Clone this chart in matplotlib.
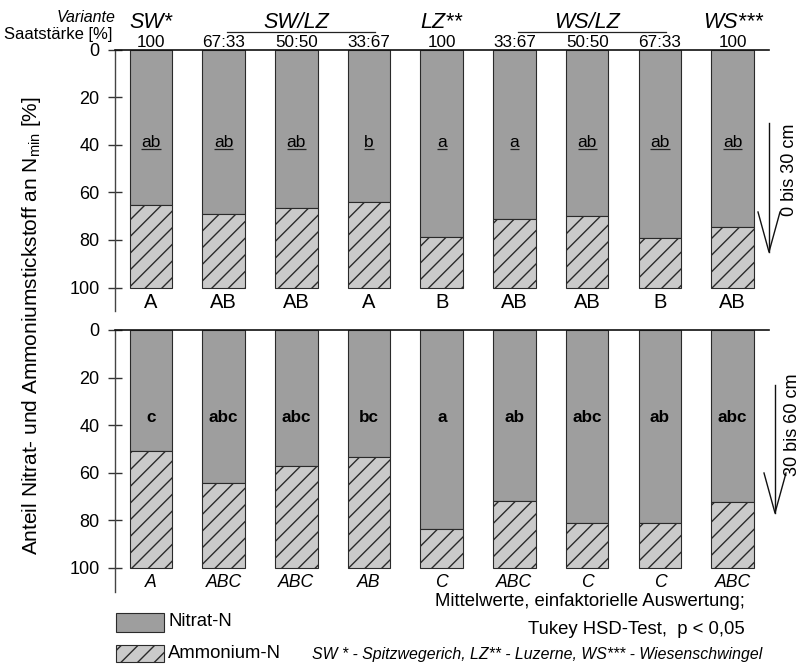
import matplotlib
matplotlib.use("Agg")
import matplotlib.pyplot as plt
from matplotlib.lines import Line2D
from matplotlib.patches import Rectangle
import numpy as np

plt.rcParams['font.family'] = ['Liberation Sans', 'DejaVu Sans']
plt.rcParams['hatch.linewidth'] = 1.0

# ---------------- data ----------------
saatstaerke = ["100", "67:33", "50:50", "33:67", "100", "33:67", "50:50", "67:33", "100"]
groups = ["SW*", "SW/LZ", "LZ**", "WS/LZ", "WS***"]
group_members = [[0], [1, 2, 3], [4], [5, 6, 7], [8]]

# Nitrat-N share [%] (rest = Ammonium-N)
nitrat_0_30 = [65.4, 69.2, 66.8, 64.0, 78.9, 71.4, 69.8, 79.1, 74.6]
nitrat_30_60 = [50.8, 64.2, 57.2, 53.4, 83.7, 72.0, 80.9, 80.9, 72.1]

letters_0_30_in = ["ab", "ab", "ab", "b", "a", "a", "ab", "ab", "ab"]
letters_0_30_below = ["A", "AB", "AB", "A", "B", "AB", "AB", "B", "AB"]
letters_30_60_in = ["c", "abc", "abc", "bc", "a", "ab", "abc", "ab", "abc"]
letters_30_60_below = ["A", "ABC", "ABC", "AB", "C", "ABC", "C", "C", "ABC"]

depth_labels = ["0 bis 30 cm", "30 bis 60 cm"]
legend_labels = ["Nitrat-N", "Ammonium-N"]
notes = ["Mittelwerte, einfaktorielle Auswertung;", "Tukey HSD-Test,  p < 0,05",
         "SW * - Spitzwegerich, LZ** - Luzerne, WS*** - Wiesenschwingel"]

# ---------------- style ----------------
C_NIT = "#9e9e9e"
C_AMM = "#cacaca"
C_EDGE = "#2a2a2a"
W, H = 805, 666

def fx(px):
    return px / W

def fy(py):
    return 1 - py / H

fig = plt.figure(figsize=(W / 100, H / 100), dpi=100)

left_px, right_px = 114.5, 769
scale = 2.38  # px per %
ax_top = fig.add_axes([fx(left_px), fy(49.5 + 110 * scale), (right_px - left_px) / W, 110 * scale / H])
ax_bot = fig.add_axes([fx(left_px), fy(330 + 110 * scale), (right_px - left_px) / W, 110 * scale / H])

x = np.arange(len(saatstaerke))
bw = 0.585

def draw_panel(ax, nitrat):
    nit = np.array(nitrat)
    amm = 100 - nit
    ax.bar(x, nit, bw, bottom=0, color=C_NIT, edgecolor=C_EDGE, linewidth=0.8, zorder=2)
    ax.bar(x, amm, bw, bottom=nit, color=C_AMM, edgecolor=C_EDGE, linewidth=0.8,
           hatch='//', zorder=2)
    ax.set_xlim(-0.5, 8.5)
    ax.set_ylim(110, 0)
    ax.set_xticks([])
    ax.set_yticks([0, 20, 40, 60, 80, 100])
    ax.tick_params(axis='y', direction='inout', length=9.5, width=1.0, pad=6,
                   labelsize=13, color="#333333")
    for s in ['right', 'bottom']:
        ax.spines[s].set_visible(False)
    ax.spines['left'].set_color("#444444")
    ax.spines['left'].set_linewidth(1.0)
    ax.spines['top'].set_color("#111111")
    ax.spines['top'].set_linewidth(1.2)
    ax.patch.set_alpha(0)

draw_panel(ax_top, nitrat_0_30)
draw_panel(ax_bot, nitrat_30_60)

# letters inside bars
top_texts = []
for i, lab in enumerate(letters_0_30_in):
    t = ax_top.text(x[i], 40.8, lab, ha='center', va='baseline', fontsize=12.5, zorder=3)
    top_texts.append(t)
for i, lab in enumerate(letters_30_60_in):
    ax_bot.text(x[i], 38.7, lab, ha='center', va='baseline', fontsize=12.3,
                fontweight='bold', zorder=3)
for i, lab in enumerate(letters_0_30_below):
    ax_top.text(x[i], 108.7, lab, ha='center', va='baseline', fontsize=14.5, clip_on=False)
for i, lab in enumerate(letters_30_60_below):
    ax_bot.text(x[i], 107.9, lab, ha='center', va='baseline', fontsize=12.7,
                style='italic', clip_on=False)

# underline top letters using the rendered text extents
fig.canvas.draw()
inv = ax_top.transData.inverted()
for t in top_texts:
    bb = t.get_window_extent()
    (x0, _), (x1, _) = inv.transform([(bb.x0, bb.y0), (bb.x1, bb.y0)])
    ax_top.plot([x0, x1], [41.7, 41.7], color="#222222", linewidth=0.9, zorder=3,
                solid_capstyle='butt')

# header: Saatstärke and Variante
for i, s in enumerate(saatstaerke):
    ax_top.text(x[i], -0.9, s, ha='center', va='baseline', fontsize=12.3, clip_on=False)
for g, mem in zip(groups, group_members):
    xc = np.mean([x[m] for m in mem])
    ax_top.text(xc, -8.9, g, ha='center', va='baseline', fontsize=15.5, style='italic',
                clip_on=False)
    if len(mem) > 1:
        ax_top.plot([x[mem[0]] + 0.05, x[mem[-1]] + 0.08], [-7.2, -7.2], color="#222222",
                    linewidth=0.9, clip_on=False)

fig.text(fx(115), fy(21.7), "Variante", ha='right', va='baseline', fontsize=11.5, style='italic')
fig.text(fx(112), fy(39), "Saatstärke [%]", ha='right', va='baseline', fontsize=12)

# y label
fig.text(fx(32), fy(326), "Anteil Nitrat- und Ammoniumstickstoff an N$_{\\mathregular{min}}$ [%]",
         rotation=90, ha='center', va='center', fontsize=15)

# depth arrows
def arrow(xs, y0, y1, head_len=40, head_w=11):
    fig.add_artist(Line2D([fx(xs), fx(xs)], [fy(y0), fy(y1)], color="#111111", linewidth=1.0))
    fig.add_artist(Line2D([fx(xs - head_w), fx(xs), fx(xs + head_w)],
                          [fy(y1 - head_len), fy(y1), fy(y1 - head_len)],
                          color="#111111", linewidth=1.0))

arrow(769, 123, 252)
arrow(775, 385, 513)
fig.text(fx(789), fy(170), depth_labels[0], rotation=90, ha='center', va='center', fontsize=13)
fig.text(fx(792), fy(425), depth_labels[1], rotation=90, ha='center', va='center', fontsize=13)

# legend
fig.add_artist(Rectangle((fx(116), fy(632)), 48 / W, 19 / H, transform=fig.transFigure,
                         facecolor=C_NIT, edgecolor=C_EDGE, linewidth=0.8))
fig.add_artist(Rectangle((fx(116), fy(662)), 48 / W, 17 / H, transform=fig.transFigure,
                         facecolor=C_AMM, edgecolor=C_EDGE, linewidth=0.8, hatch='//'))
fig.text(fx(168), fy(622), legend_labels[0], ha='left', va='center', fontsize=13.3)
fig.text(fx(168), fy(653), legend_labels[1], ha='left', va='center', fontsize=13.3)

# notes
fig.text(fx(745), fy(602), notes[0], ha='right', va='center', fontsize=13.3)
fig.text(fx(745), fy(630), notes[1], ha='right', va='center', fontsize=13.3)
fig.text(fx(762), fy(655), notes[2], ha='right', va='center', fontsize=11.4, style='italic')

fig.savefig("out.png", dpi=100)
